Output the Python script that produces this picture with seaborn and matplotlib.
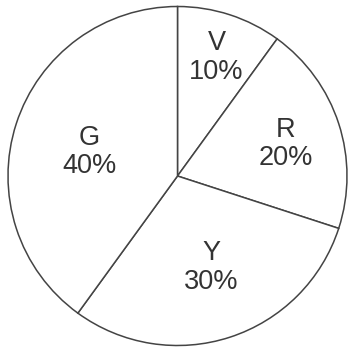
import matplotlib
matplotlib.use("Agg")
import matplotlib.pyplot as plt
import seaborn as sns
import numpy as np

sns.set_theme(style="white")
plt.rcParams['font.family'] = ['Liberation Sans', 'DejaVu Sans']

categories = ["V", "R", "Y", "G"]
values = [10, 20, 30, 40]
pct_labels = ["10%", "20%", "30%", "40%"]
# label block positions in radius units (x, y) relative to center
label_x = [0.23, 0.64, 0.20, -0.52]
label_y = [0.70, 0.19, -0.54, 0.14]

W, H = 348, 347
fig = plt.figure(figsize=(W / 100, H / 100), dpi=100)
ax = fig.add_axes([0, 0, 1, 1])

cx, cy, r = 177.5, 176.0, 169.5  # pixel center (from top) and radius
ax.pie(values, startangle=90, counterclock=False, radius=1,
       colors=["white"] * len(values),
       wedgeprops=dict(edgecolor="#444444", linewidth=1.1, antialiased=True))

ax.set_xlim(-cx / r, (W - cx) / r)
ax.set_ylim(-(H - cy) / r, cy / r)
ax.set_aspect("equal")
ax.axis("off")

for c, p, x, y in zip(categories, pct_labels, label_x, label_y):
    ax.text(x, y, f"{c}\n{p}", ha="center", va="center", fontsize=19.5,
            color="#333333", linespacing=1.12)

fig.savefig("out.png", dpi=100, facecolor="white")
